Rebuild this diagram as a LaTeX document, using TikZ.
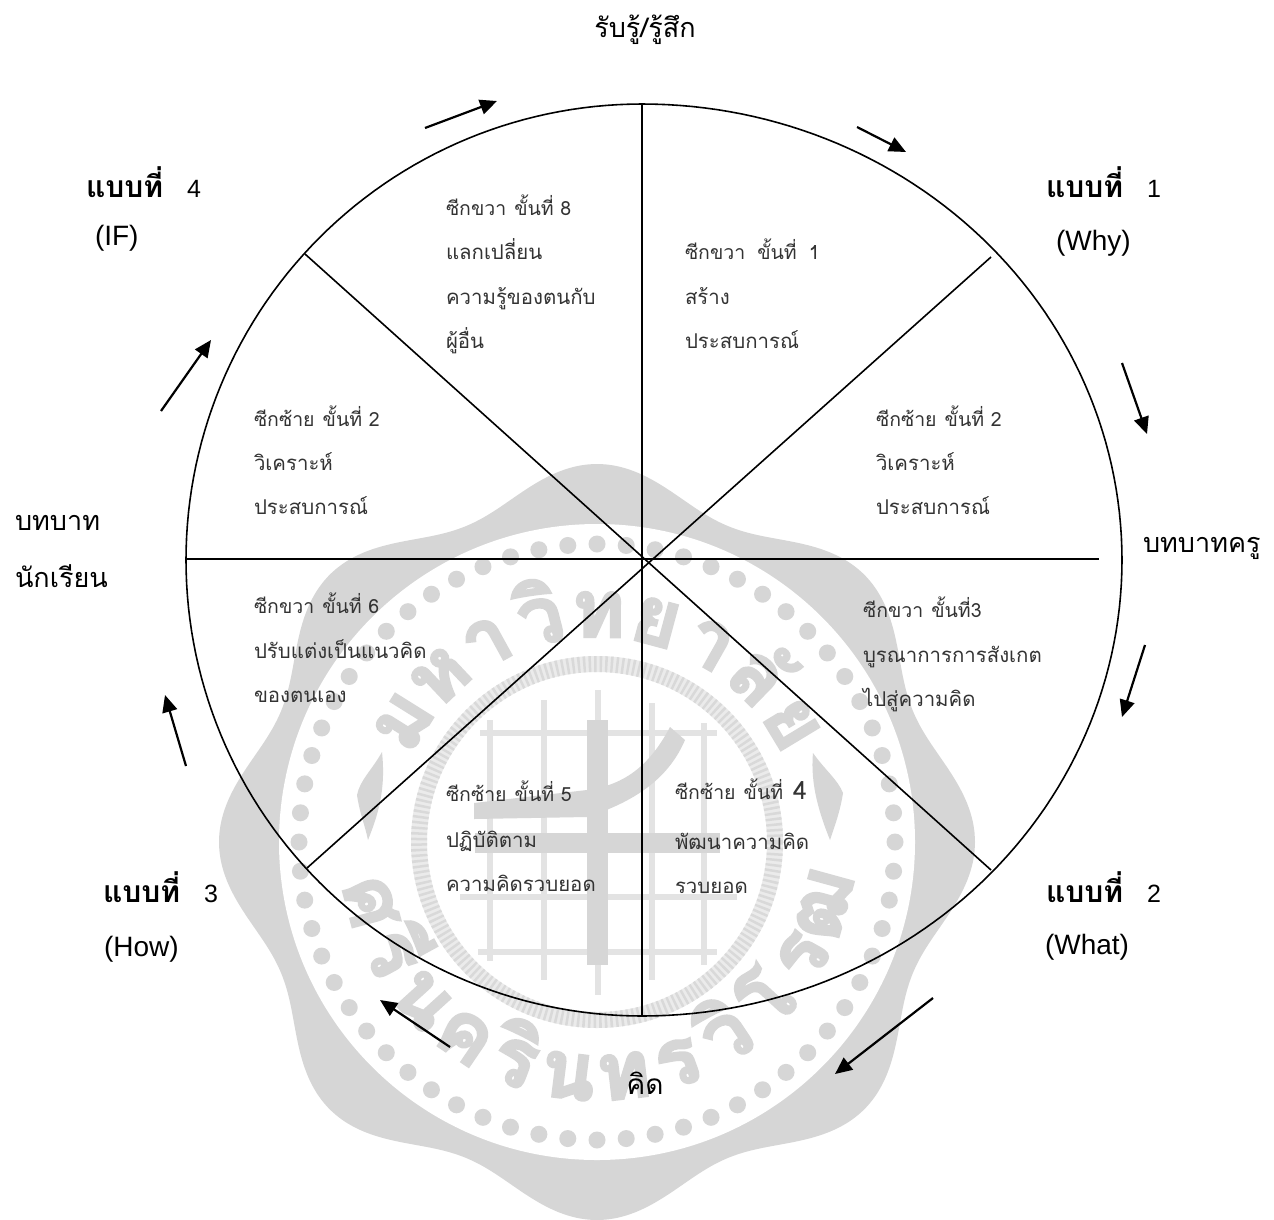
\documentclass[tikz,border=0pt]{standalone}
\usepackage{fontspec}
\setmainfont{Liberation Sans}
\newfontfamily\thaifont[Script=Thai]{Loma}
\newfontfamily\wmfont[Script=Thai,BoldFeatures={FakeBold=3}]{Loma}
\usetikzlibrary{arrows.meta}
\colorlet{wm}{black!16}
\colorlet{wmthin}{black!11}
\colorlet{ink}{black!80}
\tikzset{
  lineText/.style={inner sep=0pt,outer sep=0pt,anchor=base west,text=ink,font=\thaifont\fontsize{20.4}{24}\selectfont},
  lab/.style={inner sep=0pt,outer sep=0pt,anchor=base west,text=black,font=\fontsize{28}{32}\selectfont},
  bigTh/.style={inner sep=0pt,outer sep=0pt,text=black,font=\thaifont\fontsize{27}{32}\selectfont},
  flow/.style={line width=2.2pt,-{Triangle[length=17pt,width=15pt]}},
  wline/.style={line width=1.6pt,black},
  wmch/.style={inner sep=0pt,outer sep=0pt,anchor=base,text=wm,font=\wmfont\bfseries\fontsize{80}{82}\selectfont},
}
\newcommand{\bbk}[1]{{\thaifont\bfseries\fontsize{30}{32}\selectfont แบบที่}\hspace{24pt}{\fontsize{25}{30}\selectfont #1}}
\newcommand{\hdl}[1]{{\fontsize{19.5}{24}\selectfont #1}}
\begin{document}
\begin{tikzpicture}[x=1pt,y=-1pt]
\useasboundingbox[fill=white] (0,0) rectangle (1274,1219);
% watermark seal
\fill[wm] plot[domain=0:360,samples=241,smooth] ({597+(360+18*cos(8*\x))*cos(\x)},{842-(360+18*cos(8*\x))*sin(\x)}) -- cycle;
\fill[white] (597,842) circle[radius=318];
\foreach \a in {0,5.625,...,354.5} \fill[wm] ({597+298*cos(\a)},{842-298*sin(\a)}) circle[radius=8.5];
\draw[black!8,line width=16pt] (597,842) circle[radius=178];
\draw[black!15,line width=16pt,dash pattern=on 2.5pt off 3pt] (597,842) circle[radius=178];
\foreach \g [count=\i] in {ม,ห,า,วิ,ท,ย,า,ลั,ย}
  \node[wmch,rotate={148-(\i-1)*14.6-90}] (top\i) at ({597+205*cos(148-(\i-1)*14.6)},{842-205*sin(148-(\i-1)*14.6)}) {\g};
\foreach \g [count=\i] in {ศ,รี,น,ค,ริ,น,ท,ร,วิ,โ,ร,ฒ}
  \node[wmch,rotate={-165+(\i-1)*13.6+90}] (bot\i) at ({597+258*cos(-165+(\i-1)*13.6)},{842-258*sin(-165+(\i-1)*13.6)}) {\g};
% emblem spires
\fill[wm] (382,752) .. controls (372,770) and (360,780) .. (357,795) .. controls (360,815) and (365,825) .. (368,840) .. controls (378,815) and (386,790) .. (382,752) -- cycle;
\fill[wm] (813,753) .. controls (825,770) and (838,780) .. (843,793) .. controls (840,812) and (835,825) .. (830,840) .. controls (820,815) and (810,785) .. (813,753) -- cycle;
% grid emblem
\foreach \xx/\a/\b in {490/720/961,544/700/980,598/690/995,652/703/980,704/723/965}
  \draw[wmthin,line width=6pt] (\xx,\a) -- (\xx,\b);
\foreach \yy/\a/\b in {733/480/717,897/460/737,952/478/717}
  \draw[wmthin,line width=6pt] (\a,\yy) -- (\b,\yy);
\fill[wm] (587,720) rectangle (608,965);
\fill[wm] (475,833) rectangle (720,853);
\fill[wm] (474,803) -- (474,819) -- (587,817) .. controls (640,800) and (670,775) .. (685,740) -- (670,727) .. controls (650,765) and (625,785) .. (587,790) -- cycle;
% wheel
\coordinate (T) at (642,104); \coordinate (B) at (642,1016);
\coordinate (L) at (186,559); \coordinate (R) at (1099,559);
\coordinate (TL) at (305,254); \coordinate (BR) at (991,870);
\coordinate (TR) at (991,257); \coordinate (BL) at (307,868);
\draw[wline] plot[domain=-90:90,samples=121] ({642+480*cos(\x)},{560-456*sin(\x)});
\draw[wline] plot[domain=90:270,samples=121] ({642+456*cos(\x)},{560-456*sin(\x)});
\draw[wline] (T) -- (B);
\draw[wline] (L) -- (R);
\draw[wline] (TL) -- (BR);
\draw[wline] (TR) -- (BL);
% arrows
\foreach \n/\ax/\ay/\bx/\by in {a/425/128/497/101,b/857/127/906/152,d/1122/363/1147/434,e/1145/645/1122/717,f/933/998/835/1074,g/450/1047/380/1000,h/186/766/165/695,i/161/411/211/340}{
  \coordinate (\n s) at (\ax,\ay); \coordinate (\n t) at (\bx,\by);
  \draw[flow] (\n s) -- (\n t);}
% outer labels
\node[bigTh,anchor=center] (ttop) at (645,30) {รับรู้/รู้สึก};
\node[bigTh,anchor=center,font=\thaifont\fontsize{28}{32}\selectfont] (tbot) at (645,1083) {คิด};
\node[bigTh,anchor=base west] (tst1) at (15,530) {บทบาท};
\node[bigTh,anchor=base west] (tst2) at (15,587) {นักเรียน};
\node[bigTh,anchor=base west] (tte) at (1143,552) {บทบาทครู};
\node[lab] (m4) at (86,197) {\bbk{4}};
\node[lab] (m4b) at (95,245) {(IF)};
\node[lab] (m1) at (1046,197) {\bbk{1}};
\node[lab] (m1b) at (1056,250) {(Why)};
\node[lab] (m2) at (1046,902) {\bbk{2}};
\node[lab] (m2b) at (1045,954) {(What)};
\node[lab] (m3) at (103,902) {\bbk{3}};
\node[lab] (m3b) at (104,956) {(How)};
% sector texts
\foreach \nn/\xx/\yy/\tx in {
  s8a/446/215/\hdl{ซีกขวา\hspace{8pt}ขั้นที่ 8},
  s8b/446/259/แลกเปลี่ยน,
  s8c/446/304/ความรู้ของตนกับ,
  s8d/446/348/ผู้อื่น,
  s1a/685/259/\hdl{ซีกขวา\hspace{12pt}ขั้นที่\hspace{12pt}1},
  s1b/685/304/สร้าง,
  s1c/685/348/ประสบการณ์,
  s2la/254/426/\hdl{ซีกซ้าย\hspace{8pt}ขั้นที่ 2},
  s2lb/254/470/วิเคราะห์,
  s2lc/254/514/ประสบการณ์,
  s2ra/876/426/\hdl{ซีกซ้าย\hspace{8pt}ขั้นที่ 2},
  s2rb/876/470/วิเคราะห์,
  s2rc/876/514/ประสบการณ์,
  s6a/254/613/\hdl{ซีกขวา\hspace{8pt}ขั้นที่ 6},
  s6b/254/658/ปรับแต่งเป็นแนวคิด,
  s6c/254/702/ของตนเอง,
  s3a/863/617/\hdl{ซีกขวา\hspace{8pt}ขั้นที่3},
  s3b/863/662/บูรณาการการสังเกต,
  s3c/863/706/ไปสู่ความคิด,
  s5a/446/801/\hdl{ซีกซ้าย\hspace{8pt}ขั้นที่ 5},
  s5b/446/847/ปฏิบัติตาม,
  s5c/446/891/ความคิดรวบยอด,
  s4a/675/799/\hdl{ซีกซ้าย\hspace{8pt}ขั้นที่\hspace{10pt}{\fontsize{25}{26}\selectfont 4}},
  s4b/675/849/พัฒนาความคิด,
  s4c/675/893/รวบยอด}
  \node[lineText] (\nn) at (\xx,\yy) {\tx};
\end{tikzpicture}
\end{document}
